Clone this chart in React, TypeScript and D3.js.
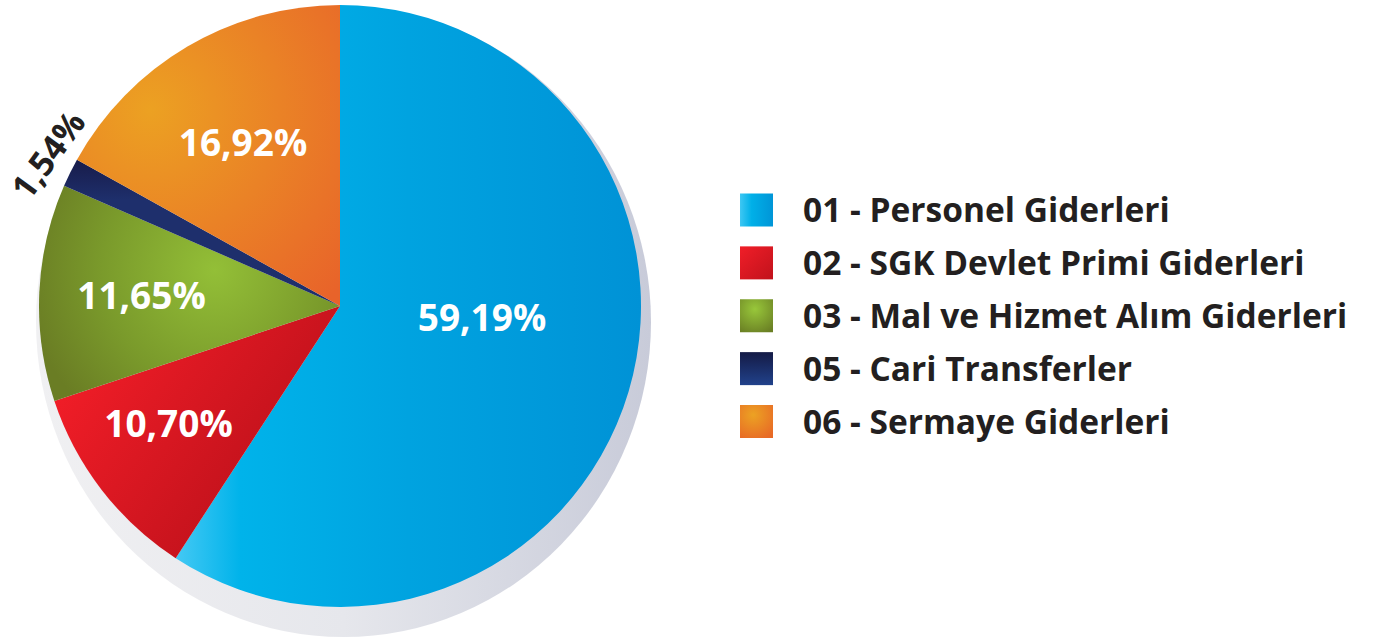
import React from "react";
import * as d3 from "d3";

const categories = [
  "01 - Personel Giderleri",
  "02 - SGK Devlet Primi Giderleri",
  "03 - Mal ve Hizmet Alım Giderleri",
  "05 - Cari Transferler",
  "06 - Sermaye Giderleri",
];
const values = [59.19, 10.7, 11.65, 1.54, 16.92];
const labels = ["59,19%", "10,70%", "11,65%", "1,54%", "16,92%"];

// layout (not data)
const CX = 340;
const CY = 306;
const R = 301;
const labelOffsets: [number, number, number, string][] = [
  [142, 12, 0, "#ffffff"],
  [-171.5, 118, 0, "#ffffff"],
  [-198.5, -10, 0, "#ffffff"],
  [-292, -151, -54, "#231f20"],
  [-97, -163, 0, "#ffffff"],
];
const FONT = "'Open Sans', Lato, sans-serif";

export default function App() {
  const pie = d3
    .pie<number>()
    .sort(null)
    .startAngle(0)
    .endAngle(2 * Math.PI)(values);
  const arc = d3.arc<d3.PieArcDatum<number>>().innerRadius(0).outerRadius(R);

  const legendY = d3
    .scalePoint<string>()
    .domain(categories)
    .range([210, 421.5]);

  const fills = ["url(#gBlue)", "url(#gRed)", "url(#gGreen)", "url(#gNavy)", "url(#gOrange)"];
  const legFills = ["url(#lBlue)", "url(#lRed)", "url(#lGreen)", "url(#lNavy)", "url(#lOrange)"];
  const X = (v: number) => v - CX;
  const Y = (v: number) => v - CY;

  return (
    <svg
      width={1373}
      height={638}
      style={{ position: "absolute", left: 0, top: 0, background: "#fff" }}
    >
      <defs>
        <linearGradient id="gShadow" gradientUnits="userSpaceOnUse" x1={36} y1={0} x2={651} y2={0}>
          <stop offset="0" stopColor="#f0f0f2" />
          <stop offset="0.5" stopColor="#e6e7ec" />
          <stop offset="1" stopColor="#c8cbd9" />
        </linearGradient>
        <linearGradient id="gBlue" gradientUnits="userSpaceOnUse" x1={X(175)} y1={0} x2={X(641)} y2={0}>
          <stop offset="0" stopColor="#45c9f4" />
          <stop offset="0.14" stopColor="#00b3ea" />
          <stop offset="0.5" stopColor="#00a3e0" />
          <stop offset="1" stopColor="#0092d6" />
        </linearGradient>
        <linearGradient id="gRed" gradientUnits="userSpaceOnUse" x1={X(60)} y1={Y(400)} x2={X(230)} y2={Y(520)}>
          <stop offset="0" stopColor="#ef1d27" />
          <stop offset="1" stopColor="#c3121c" />
        </linearGradient>
        <radialGradient id="gGreen" gradientUnits="userSpaceOnUse" cx={X(215)} cy={Y(270)} r={190}>
          <stop offset="0" stopColor="#93bf37" />
          <stop offset="0.6" stopColor="#7a9a2b" />
          <stop offset="1" stopColor="#6a7d24" />
        </radialGradient>
        <linearGradient id="gNavy" gradientUnits="userSpaceOnUse" x1={0} y1={Y(160)} x2={0} y2={Y(200)}>
          <stop offset="0" stopColor="#181c4a" />
          <stop offset="1" stopColor="#1e2f6c" />
        </linearGradient>
        <radialGradient id="gOrange" gradientUnits="userSpaceOnUse" cx={X(150)} cy={Y(110)} r={260}>
          <stop offset="0" stopColor="#eca122" />
          <stop offset="1" stopColor="#e8632a" />
        </radialGradient>

        <linearGradient id="lBlue" x1="0" y1="0" x2="1" y2="0">
          <stop offset="0" stopColor="#3ec7f3" />
          <stop offset="0.35" stopColor="#00b0e8" />
          <stop offset="1" stopColor="#0095d7" />
        </linearGradient>
        <linearGradient id="lRed" x1="0" y1="0" x2="1" y2="1">
          <stop offset="0" stopColor="#f01e28" />
          <stop offset="1" stopColor="#c1121c" />
        </linearGradient>
        <radialGradient id="lGreen" cx="0.45" cy="0.3" r="0.8">
          <stop offset="0" stopColor="#98c73a" />
          <stop offset="1" stopColor="#6a7f24" />
        </radialGradient>
        <linearGradient id="lNavy" x1="0" y1="0" x2="0" y2="1">
          <stop offset="0" stopColor="#141a45" />
          <stop offset="1" stopColor="#21428b" />
        </linearGradient>
        <radialGradient id="lOrange" cx="0.4" cy="0.3" r="0.8">
          <stop offset="0" stopColor="#eca223" />
          <stop offset="1" stopColor="#e86a26" />
        </radialGradient>
      </defs>

      <ellipse cx={343.5} cy={322} rx={307.5} ry={315} fill="url(#gShadow)" />

      <g transform={`translate(${CX},${CY})`}>
        {pie.map((d, i) => (
          <path key={categories[i]} d={arc(d) || ""} fill={fills[i]} />
        ))}
        {pie.map((d, i) => {
          const [dx, dy, rot, col] = labelOffsets[i];
          return (
            <text
              key={"l" + i}
              transform={`translate(${dx},${dy}) rotate(${rot})`}
              textAnchor="middle"
              dy="0.36em"
              fill={col}
              fontFamily={FONT}
              fontWeight={700}
              fontSize={i === 3 ? 34 : 37}
            >
              {labels[i]}
            </text>
          );
        })}
      </g>

      <g>
        {categories.map((c, i) => {
          const y = legendY(c) as number;
          return (
            <g key={c}>
              <rect x={740} y={y - 16.5} width={33} height={33} fill={legFills[i]} />
              <text
                x={803}
                y={y}
                dy="0.36em"
                fill="#231f20"
                fontFamily={FONT}
                fontWeight={700}
                fontSize={33.5}
              >
                {c}
              </text>
            </g>
          );
        })}
      </g>
    </svg>
  );
}
